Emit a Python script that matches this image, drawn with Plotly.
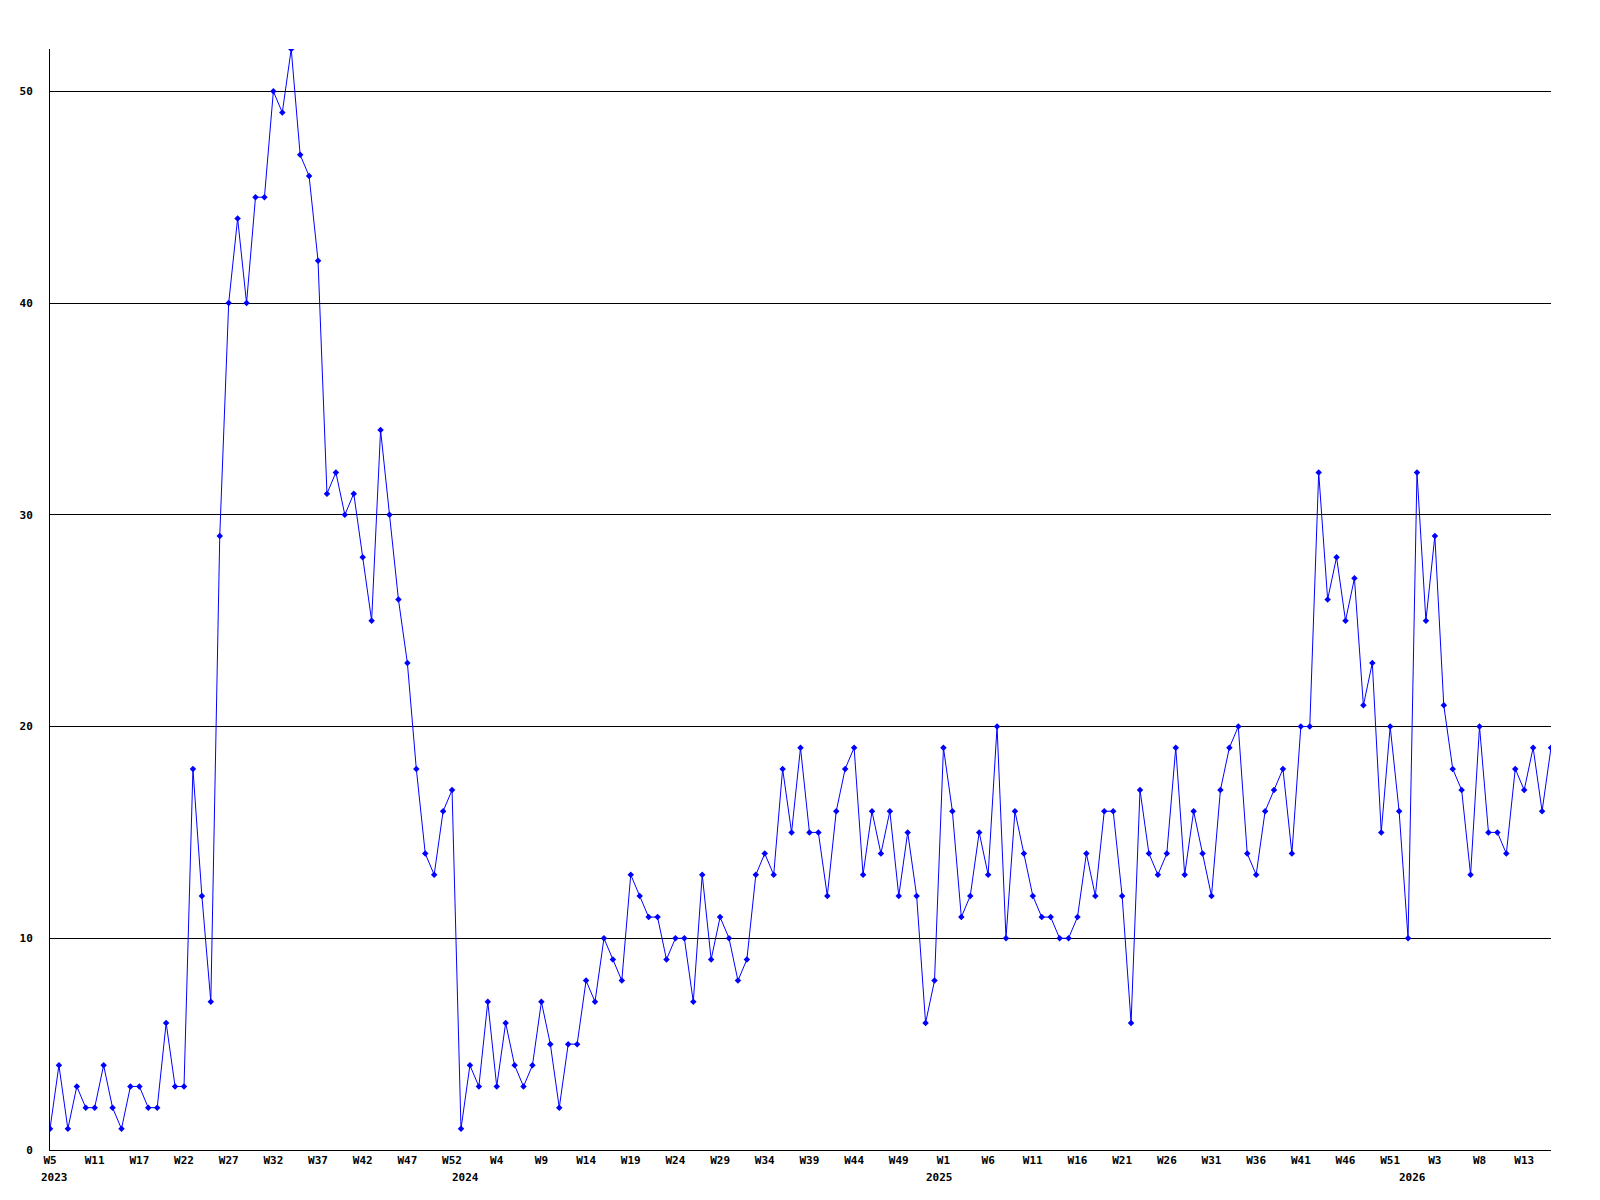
import plotly.graph_objects as go

# weekly counts, 2023 W5 onwards
counts = [
    1, 4, 1, 3, 2, 2, 4, 2, 1, 3,
    3, 2, 2, 6, 3, 3, 18, 12, 7, 29,
    40, 44, 40, 45, 45, 50, 49, 52, 47, 46,
    42, 31, 32, 30, 31, 28, 25, 34, 30, 26,
    23, 18, 14, 13, 16, 17, 1, 4, 3, 7,
    3, 6, 4, 3, 4, 7, 5, 2, 5, 5,
    8, 7, 10, 9, 8, 13, 12, 11, 11, 9,
    10, 10, 7, 13, 9, 11, 10, 8, 9, 13,
    14, 13, 18, 15, 19, 15, 15, 12, 16, 18,
    19, 13, 16, 14, 16, 12, 15, 12, 6, 8,
    19, 16, 11, 12, 15, 13, 20, 10, 16, 14,
    12, 11, 11, 10, 10, 11, 14, 12, 16, 16,
    12, 6, 17, 14, 13, 14, 19, 13, 16, 14,
    12, 17, 19, 20, 14, 13, 16, 17, 18, 14,
    20, 20, 32, 26, 28, 25, 27, 21, 23, 15,
    20, 16, 10, 32, 25, 29, 21, 18, 17, 13,
    20, 15, 15, 14, 18, 17, 19, 16, 19,
]

week_labels = [
    'W5', 'W11', 'W17', 'W22', 'W27', 'W32', 'W37', 'W42', 'W47', 'W52',
    'W4', 'W9', 'W14', 'W19', 'W24', 'W29', 'W34', 'W39', 'W44', 'W49',
    'W1', 'W6', 'W11', 'W16', 'W21', 'W26', 'W31', 'W36', 'W41', 'W46',
    'W51', 'W3', 'W8', 'W13',
]
year_labels = ['2023', '2024', '2025', '2026']
year_starts = [0, 46, 99, 152]

y_ticks = [0, 10, 20, 30, 40, 50]

FONT = 'DejaVu Sans Mono'
BLUE = '#0000ff'

x = list(range(len(counts)))
tick_pos = x[::5][:len(week_labels)]

fig = go.Figure()
fig.add_trace(go.Scatter(
    x=x, y=counts, mode='lines+markers',
    line=dict(color=BLUE, width=1),
    marker=dict(symbol='diamond', size=5, color=BLUE),
))

for yr, pos in zip(year_labels, year_starts):
    fig.add_annotation(x=pos, y=0, xref='x', yref='paper', text=yr, showarrow=False,
                       xanchor='left', yanchor='top', xshift=-11, yshift=-19,
                       font=dict(family=FONT, size=11, color='black', weight='bold'))

# page body has an 8px margin, so the figure is 8px smaller each way
fig.update_layout(
    width=1592, height=1192,
    margin=dict(l=42, r=49, t=41, b=50),
    paper_bgcolor='white', plot_bgcolor='white',
    showlegend=False,
    xaxis=dict(range=[0, len(counts) - 1], tickvals=tick_pos, ticktext=week_labels,
               showgrid=False, zeroline=False, showline=True, linecolor='black', linewidth=1,
               tickfont=dict(family=FONT, size=11, color='black', weight='bold')),
    yaxis=dict(range=[0, 52], tickvals=y_ticks, showgrid=True, gridcolor='black', gridwidth=1,
               zeroline=False, showline=True, linecolor='black', linewidth=1,
               ticklabelstandoff=14,
               tickfont=dict(family=FONT, size=11, color='black', weight='bold')),
)

fig.write_html("out.html")
